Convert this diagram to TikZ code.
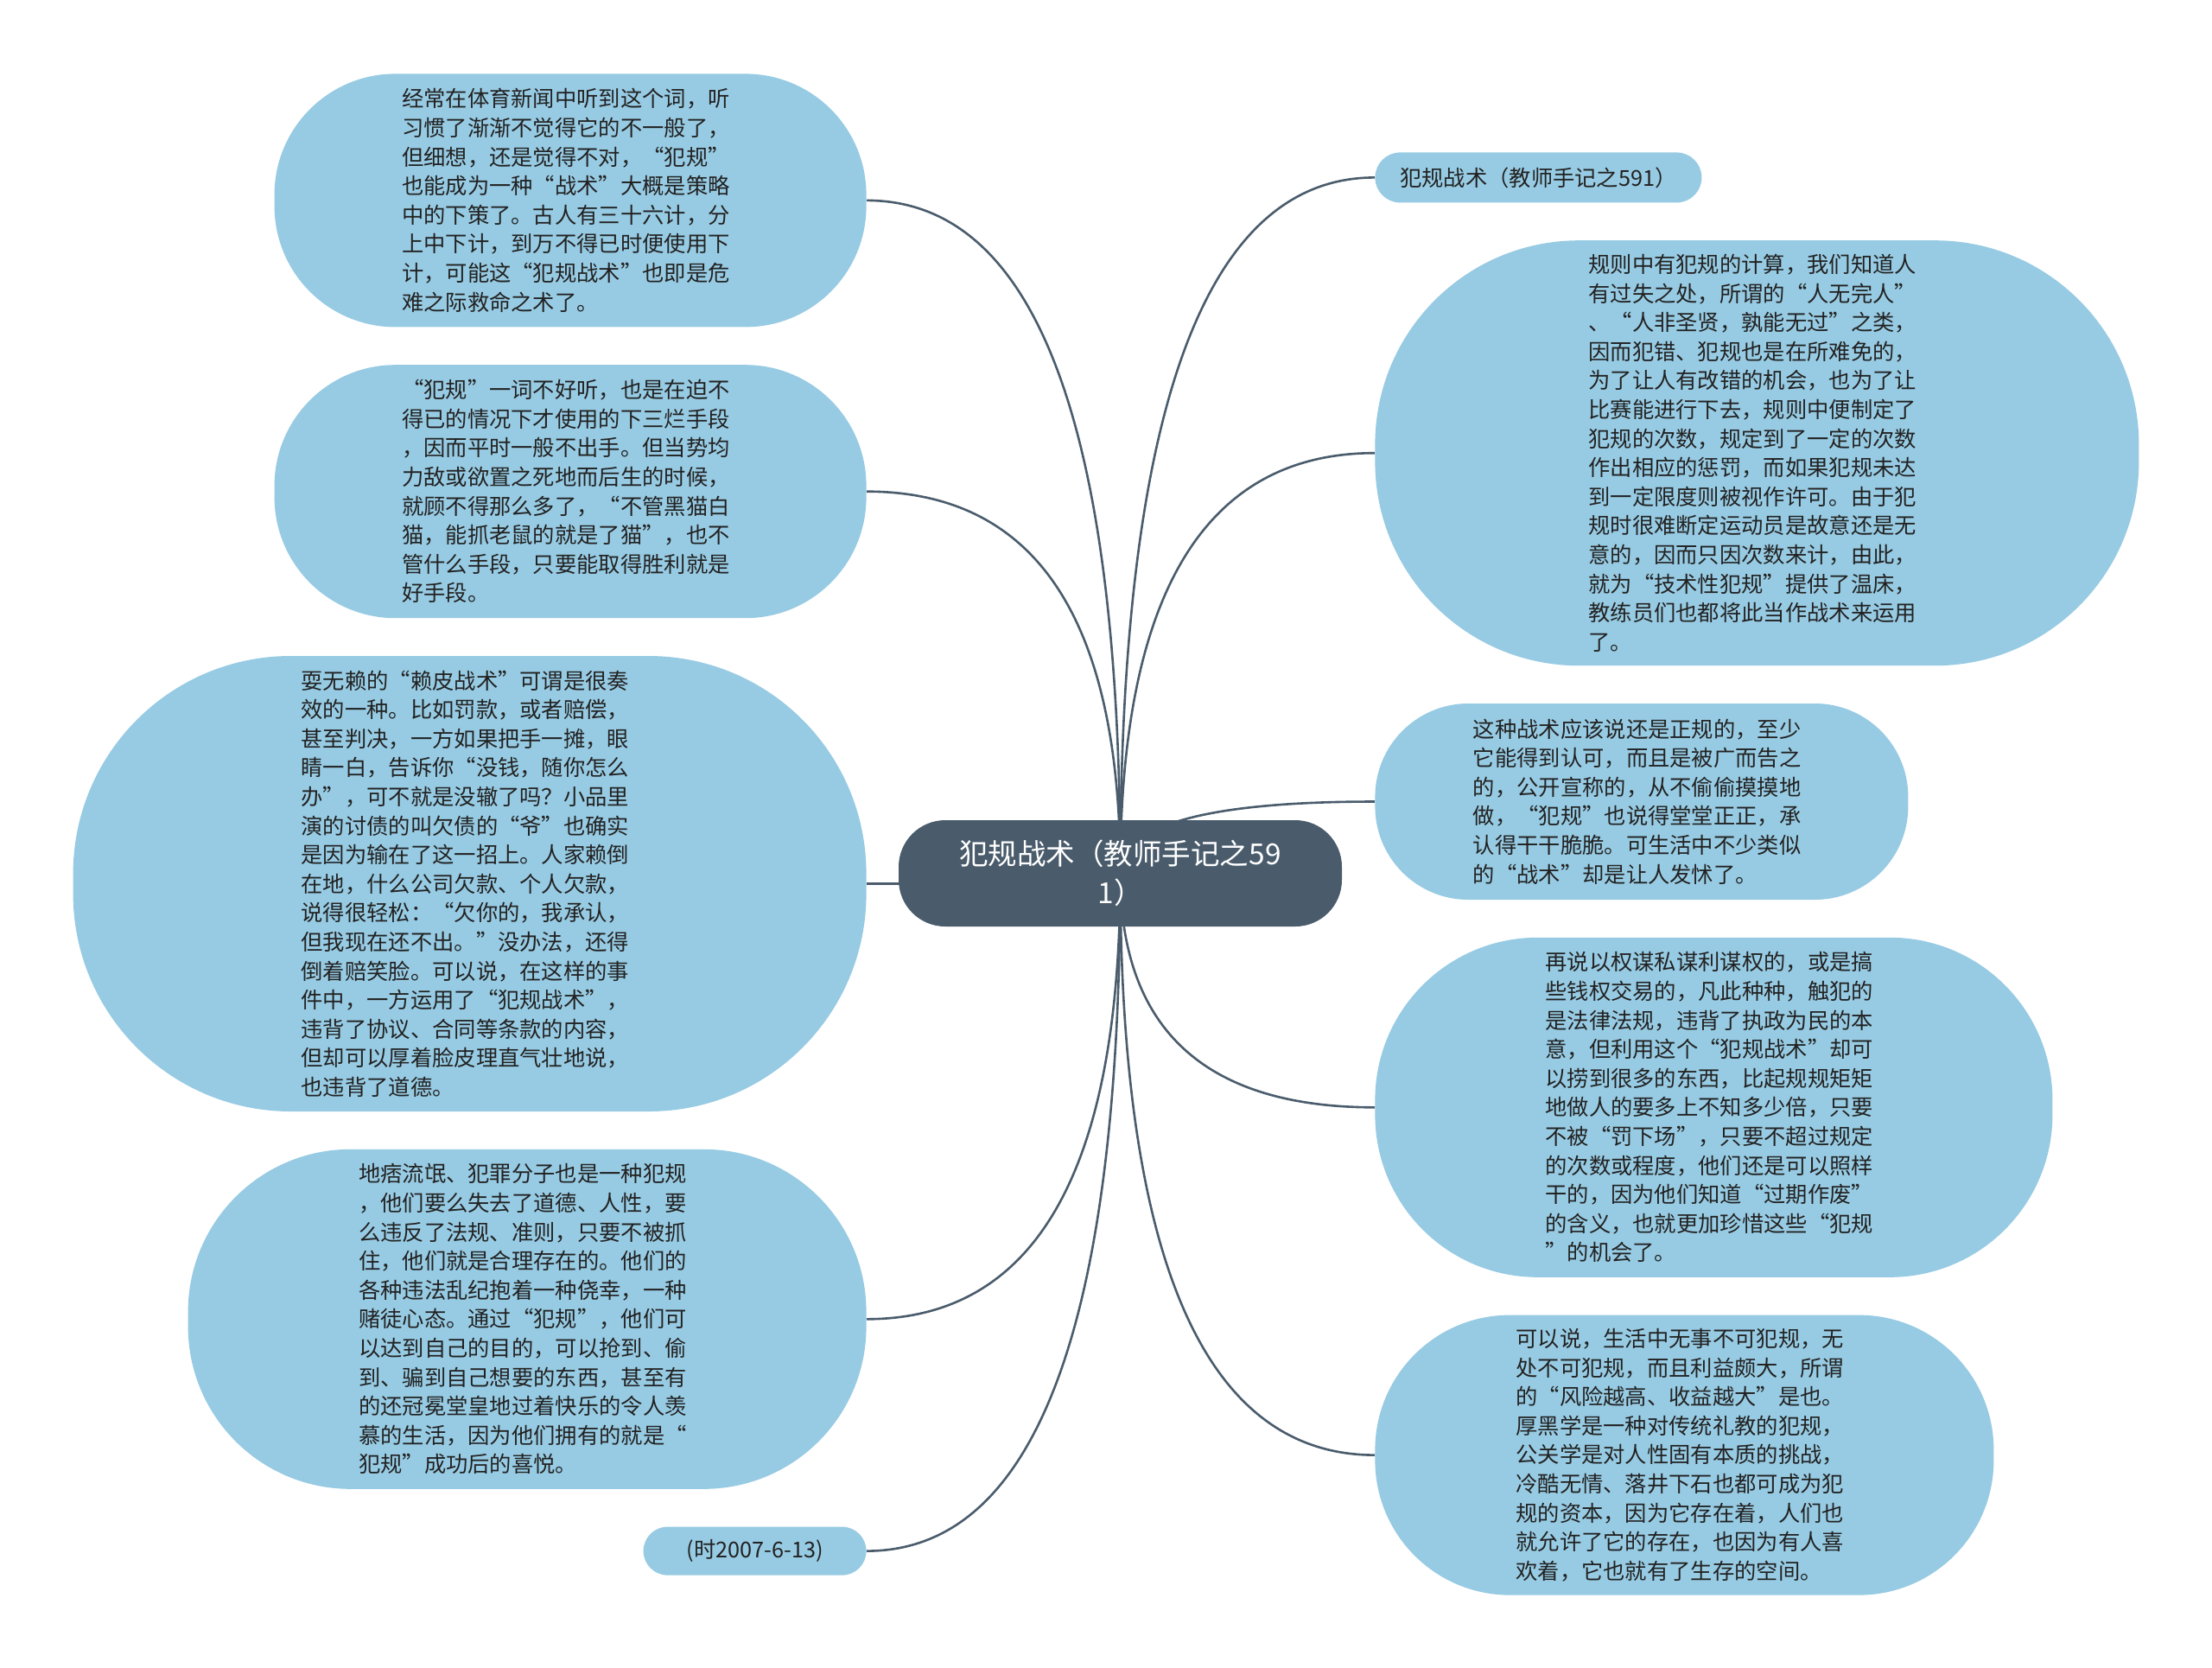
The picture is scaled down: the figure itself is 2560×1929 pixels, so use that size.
\documentclass[tikz,border=0pt]{standalone}
\usepackage{fontspec}
\setmainfont{Noto Sans CJK SC}
\usetikzlibrary{positioning}
\usetikzlibrary{calc,backgrounds}
\definecolor{leaffill}{RGB}{151,203,227}
\definecolor{rootfill}{RGB}{74,92,108}
\definecolor{fg}{RGB}{34,34,34}
\tikzstyle{leaf}=[fill=leaffill, text=fg, text width=195pt, align=left,
font=\fontsize{12.65}{16.8}\selectfont]
\tikzstyle{tag}=[fill=leaffill, text=fg, align=center,
font=\fontsize{12.65}{16.8}\selectfont]
\tikzstyle{root}=[fill=rootfill, text=white, align=center, rounded corners=27pt,
minimum width=256.5pt, minimum height=61.5pt, font=\fontsize{16.75}{22.5}\selectfont]
\tikzstyle{mylink}=[draw=rootfill, line width=1.3pt]

\begin{document}
\begin{tikzpicture}[x=0.5pt, y=-0.5pt, node distance=21.5pt]

    \useasboundingbox (0,0) rectangle (2560,1929);

    \node[root] (root) at (1296.5,1010.5) {犯规战术（教师手记之59\\1）};

    % left side
    \node[leaf, anchor=north east, minimum width=342.5pt, minimum height=146.5pt, rounded corners=70pt] (L1) at (1003,85) {经常在体育新闻中听到这个词，听\\习惯了渐渐不觉得它的不一般了，\\但细想，还是觉得不对，“犯规”\\也能成为一种“战术”大概是策略\\中的下策了。古人有三十六计，分\\上中下计，到万不得已时便使用下\\计，可能这“犯规战术”也即是危\\难之际救命之术了。};

    \node[leaf, below=of L1.south east, anchor=north east, minimum width=342.5pt, minimum height=146.5pt, rounded corners=70pt] (L2) {“犯规”一词不好听，也是在迫不\\得已的情况下才使用的下三烂手段\\，因而平时一般不出手。但当势均\\力敌或欲置之死地而后生的时候，\\就顾不得那么多了，“不管黑猫白\\猫，能抓老鼠的就是了猫”，也不\\管什么手段，只要能取得胜利就是\\好手段。};

    \node[leaf, below=of L2.south east, anchor=north east, minimum width=459pt, minimum height=263.5pt, rounded corners=126pt] (L3) {耍无赖的“赖皮战术”可谓是很奏\\效的一种。比如罚款，或者赔偿，\\甚至判决，一方如果把手一摊，眼\\睛一白，告诉你“没钱，随你怎么\\办”，可不就是没辙了吗？小品里\\演的讨债的叫欠债的“爷”也确实\\是因为输在了这一招上。人家赖倒\\在地，什么公司欠款、个人欠款，\\说得很轻松：“欠你的，我承认，\\但我现在还不出。”没办法，还得\\倒着赔笑脸。可以说，在这样的事\\件中，一方运用了“犯规战术”，\\违背了协议、合同等条款的内容，\\但却可以厚着脸皮理直气壮地说，\\也违背了道德。};

    \node[leaf, below=of L3.south east, anchor=north east, minimum width=392.5pt, minimum height=196.5pt, rounded corners=94pt] (L4) {地痞流氓、犯罪分子也是一种犯规\\，他们要么失去了道德、人性，要\\么违反了法规、准则，只要不被抓\\住，他们就是合理存在的。他们的\\各种违法乱纪抱着一种侥幸，一种\\赌徒心态。通过“犯规”，他们可\\以达到自己的目的，可以抢到、偷\\到、骗到自己想要的东西，甚至有\\的还冠冕堂皇地过着快乐的令人羡\\慕的生活，因为他们拥有的就是“\\犯规”成功后的喜悦。};

    \node[tag, below=of L4.south east, anchor=north east, minimum width=129pt, minimum height=28pt, rounded corners=14pt] (L5) {(时2007-6-13)};

    % right side
    \node[tag, anchor=north west, minimum width=189pt, minimum height=29pt, rounded corners=14.5pt] (R1) at (1591,176) {犯规战术（教师手记之591）};

    \node[leaf, below=of R1.south west, anchor=north west, minimum width=442pt, minimum height=246pt, rounded corners=118pt] (R2) {规则中有犯规的计算，我们知道人\\有过失之处，所谓的“人无完人”\\、“人非圣贤，孰能无过”之类，\\因而犯错、犯规也是在所难免的，\\为了让人有改错的机会，也为了让\\比赛能进行下去，规则中便制定了\\犯规的次数，规定到了一定的次数\\作出相应的惩罚，而如果犯规未达\\到一定限度则被视作许可。由于犯\\规时很难断定运动员是故意还是无\\意的，因而只因次数来计，由此，\\就为“技术性犯规”提供了温床，\\教练员们也都将此当作战术来运用\\了。};

    \node[leaf, below=of R2.south west, anchor=north west, minimum width=308.5pt, minimum height=113.5pt, rounded corners=54pt] (R3) {这种战术应该说还是正规的，至少\\它能得到认可，而且是被广而告之\\的，公开宣称的，从不偷偷摸摸地\\做，“犯规”也说得堂堂正正，承\\认得干干脆脆。可生活中不少类似\\的“战术”却是让人发怵了。};

    \node[leaf, below=of R3.south west, anchor=north west, minimum width=392pt, minimum height=196.5pt, rounded corners=94pt] (R4) {再说以权谋私谋利谋权的，或是搞\\些钱权交易的，凡此种种，触犯的\\是法律法规，违背了执政为民的本\\意，但利用这个“犯规战术”却可\\以捞到很多的东西，比起规规矩矩\\地做人的要多上不知多少倍，只要\\不被“罚下场”，只要不超过规定\\的次数或程度，他们还是可以照样\\干的，因为他们知道“过期作废”\\的含义，也就更加珍惜这些“犯规\\”的机会了。};

    \node[leaf, below=of R4.south west, anchor=north west, minimum width=358pt, minimum height=162pt, rounded corners=78pt] (R5) {可以说，生活中无事不可犯规，无\\处不可犯规，而且利益颇大，所谓\\的“风险越高、收益越大”是也。\\厚黑学是一种对传统礼教的犯规，\\公关学是对人性固有本质的挑战，\\冷酷无情、落井下石也都可成为犯\\规的资本，因为它存在着，人们也\\就允许了它的存在，也因为有人喜\\欢着，它也就有了生存的空间。};

    \begin{scope}[on background layer]
    \fill[white] (0,0) rectangle (2560,1929);
    \foreach \n/\a in {L1/east, L2/east, L3/east, L4/east, L5/east, R1/west, R2/west, R3/west, R4/west, R5/west}
        \draw[mylink] (root.center) .. controls ($(root.center)!2/3!(root.center |- \n.\a)$) and ($(\n.\a)!2/3!(root.center |- \n.\a)$) .. (\n.\a);
    \end{scope}

\end{tikzpicture}
\end{document}
